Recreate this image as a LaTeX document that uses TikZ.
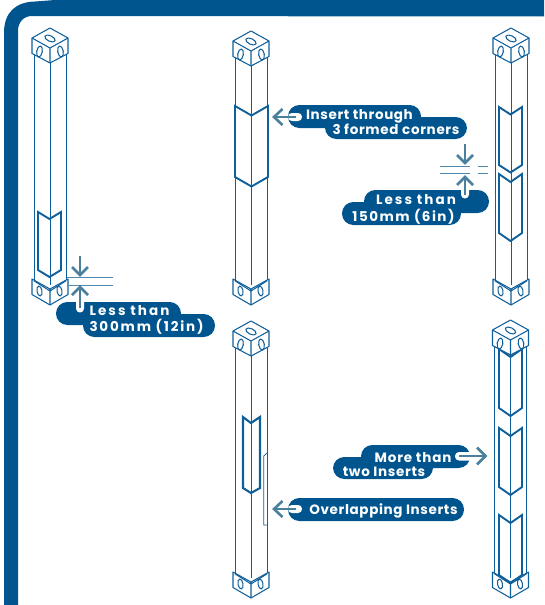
\documentclass[tikz,border=0pt]{standalone}
\usepackage{fontspec}
\setmainfont{Poppins}
\definecolor{navy}{HTML}{00558F}
\definecolor{postc}{HTML}{0F5F9A}
\definecolor{midc}{HTML}{5088AE}
\definecolor{arrowc}{HTML}{4A7F9E}
\newcommand{\spaced}[2]{\addfontfeature{LetterSpace=#1}#2}
\tikzset{
 x=1pt,y=-1pt,
 capline/.style={draw=postc,line width=1.05pt,line join=round},
 shaft/.style={draw=postc,line width=1pt},
 insertline/.style={draw=postc,line width=1.9pt,line join=miter},
 dimline/.style={draw=midc,line width=0.9pt},
 pointer/.style={draw=arrowc,line width=2.6pt},
 pointerhead/.style={draw=arrowc,line width=2.6pt,line join=miter},
 pill/.style={fill=navy,rounded corners=11.4pt},
 slot/.style={fill=white,rounded corners=3.9pt},
 lbl/.style={text=white,font=\fontsize{13.5}{15}\selectfont\bfseries,inner sep=0pt,anchor=base}
}
% #1 x centre, #2 top vertex y, #3 bottom vertex y
\newcommand{\drawpost}[3]{%
 \begin{scope}[shift={(#1,0)}]
  \draw[shaft] (-16,#2+26) -- (-16,#3-23);
  \draw[shaft] (16,#2+26) -- (16,#3-23);
  \draw[shaft] (0,#2+35) -- (0,#3-20);
  % top cap
  \draw[capline,fill=white] (0,#2) -- (18,#2+10) -- (18,#2+25.5) -- (0,#2+35) -- (-18,#2+25.5) -- (-18,#2+10) -- cycle;
  \draw[capline] (-18,#2+10) -- (0,#2+20) -- (18,#2+10) (0,#2+20) -- (0,#2+35);
  \draw[capline,rotate around={-25:(0,#2+10.5)}] (0,#2+10.5) ellipse (5.6pt and 2.8pt);
  \draw[capline,rotate around={-10:(-10.5,#2+23.5)}] (-10.5,#2+23.5) ellipse (2.8pt and 5.6pt);
  \draw[capline,rotate around={10:(10.5,#2+23.5)}] (10.5,#2+23.5) ellipse (2.8pt and 5.6pt);
  % bottom cap
  \draw[capline,fill=white] (-18,#3-26) -- (0,#3-16) -- (18,#3-26) -- (18,#3-10.5) -- (0,#3) -- (-18,#3-10.5) -- cycle;
  \draw[capline] (-16,#3-24.2) -- (0,#3-14) -- (16,#3-24.2) (0,#3-16) -- (0,#3);
  \draw[capline,rotate around={10:(-10.5,#3-14)}] (-10.5,#3-14) ellipse (2.5pt and 5pt);
  \draw[capline,rotate around={10:(9.5,#3-14)}] (9.5,#3-14) ellipse (2.5pt and 5pt);
 \end{scope}}
% #1 x centre, #2 half-width, #3 top corner y, #4 bottom corner y, #5 notch depth
\newcommand{\drawinsert}[5]{%
 \draw[insertline] (#1-#2,#3) -- (#1,#3+#5) -- (#1+#2,#3) -- (#1+#2,#4) -- (#1,#4+#5) -- (#1-#2,#4) -- cycle;}
\begin{document}
\begin{tikzpicture}
\useasboundingbox (0,0) rectangle (544,605);
% frame
\fill[navy] (4,605) -- (4,33) .. controls (4,12) and (16,2) .. (35,1.5) -- (55,0) -- (544,0) -- (544,16.5) -- (32,16) .. controls (23,16) and (18,23) .. (18,31) -- (18,605) -- cycle;
% posts
\drawpost{50}{28}{305}
\drawinsert{49.5}{11.5}{212}{270}{7}
\drawpost{251}{31}{305}
\drawinsert{251.5}{16.5}{106}{177}{9.5}
\drawpost{511}{28}{305}
\drawinsert{510.5}{11.5}{107}{165}{7.5}
\drawinsert{510.5}{11.5}{174}{233}{8}
\drawpost{251}{321}{598}
\draw[insertline,line width=2.1pt] (243,417) -- (251,423) -- (260,417) -- (260,488) -- (251,493) -- (243,488) -- cycle;
\draw[capline,line width=.7pt] (267,453) -- (263.7,456) -- (263.7,525) -- (267,525);
\drawinsert{510.5}{11.5}{349}{408}{8}
\drawpost{510.5}{320}{598}
\drawinsert{510.5}{11.5}{428}{487}{8}
\drawinsert{510.5}{11.5}{515}{575}{8}
% callout 1
\fill[pill] (56,302) rectangle (181,325);
\fill[pill] (83,314) rectangle (215,337);
\fill[slot] (76,296) rectangle (84,312.5);
\draw[dimline] (67,277) -- (113,277) (67,285) -- (113,285);
\draw[pointer] (80,256) -- (80,274);
\draw[pointerhead] (72,267) -- (80,275) -- (88,267);
\draw[pointer] (80,287) -- (80,308);
\draw[pointerhead] (72,295) -- (80,287) -- (88,295);
\node[lbl] (t1a) at (129.5,315) {\spaced{15}{Less than}};
\node[lbl] (t1b) at (146.5,331) {\spaced{13.3}{300mm (12in)}};
% callout 2
\fill[pill] (288,105) rectangle (421,128);
\fill[pill] (325,117) rectangle (467,139);
\fill[slot] (288,113) rectangle (302,121);
\draw[pointer] (275,117) -- (296,117);
\draw[pointerhead] (282.5,109) -- (274,117) -- (282.5,125);
\node[lbl] (t2a) at (359.5,119) {\spaced{4.5}{Insert through}};
\node[lbl] (t2b) at (396,134) {\spaced{5}{3 formed corners}};
% callout 3
\fill[pill] (364,190) rectangle (489,213);
\fill[pill] (342,202) rectangle (461,225);
\fill[slot] (461,184) rectangle (469,198.5);
\draw[dimline] (440,166) -- (470,166) (478,166) -- (488,166) (440,173) -- (470,173) (478,173) -- (488,173);
\draw[pointer] (465,144) -- (465,162);
\draw[pointerhead] (457,155) -- (465,163) -- (473,155);
\draw[pointer] (465,178) -- (465,195);
\draw[pointerhead] (457,185) -- (465,177) -- (473,185);
\node[lbl] (t3a) at (416,204) {\spaced{15}{Less than}};
\node[lbl] (t3b) at (403.5,221) {\spaced{11}{150mm (6in)}};
% callout 4
\fill[pill] (361,445) rectangle (470,468);
\fill[pill] (333,457) rectangle (433,479);
\fill[slot] (455,452) rectangle (474,460.5);
\draw[pointer] (459,456) -- (485,456);
\draw[pointerhead] (477,447.5) -- (485.5,456) -- (477,464.5);
\node[lbl] (t4a) at (413,462) {\spaced{6.3}{More than}};
\node[lbl] (t4b) at (384,476) {\spaced{5}{two Inserts}};
% callout 5
\fill[pill] (288,498) rectangle (464,521);
\fill[slot] (288,505) rectangle (302,513);
\draw[pointer] (275,509) -- (296,509);
\draw[pointerhead] (282.5,501) -- (274,509) -- (282.5,517);
\node[lbl] (t5) at (383.5,514) {\spaced{4.7}{Overlapping Inserts}};
\end{tikzpicture}
\end{document}
